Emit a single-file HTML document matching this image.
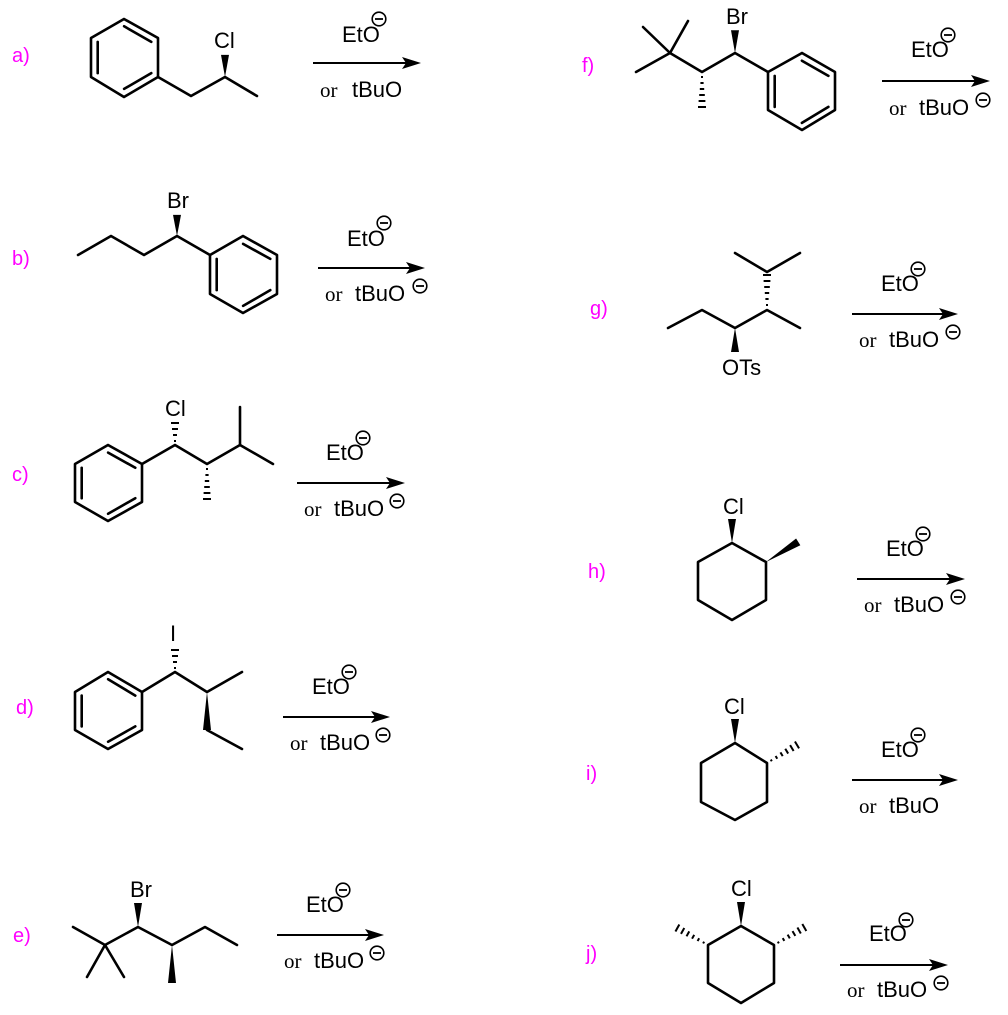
<!DOCTYPE html>
<html><head><meta charset="utf-8"><style>
html,body{margin:0;padding:0;background:#fff;}
svg{display:block;}
.b{stroke:#000;stroke-width:2.6;fill:none;stroke-linecap:round;stroke-linejoin:round;}
.h{stroke:#000;stroke-width:2;}
.t{font-family:"Liberation Sans",sans-serif;font-size:22px;fill:#000;}
.s{font-family:"Liberation Serif",serif;font-size:21px;fill:#000;}
.m{font-family:"Liberation Sans",sans-serif;font-size:20px;fill:#ff00ff;}
</style></head><body>
<svg width="1008" height="1015" viewBox="0 0 1008 1015" xmlns="http://www.w3.org/2000/svg">
<defs>
<g id="hash">
<line class="h" x1="5" y1="-1" x2="5" y2="1"/><line class="h" x1="11" y1="-1.6" x2="11" y2="1.6"/>
<line class="h" x1="17" y1="-2.2" x2="17" y2="2.2"/><line class="h" x1="23" y1="-2.8" x2="23" y2="2.8"/>
<line class="h" x1="29" y1="-3.4" x2="29" y2="3.4"/><line class="h" x1="35" y1="-4" x2="35" y2="4"/>
</g>
<g id="hashs">
<line class="h" x1="4" y1="-1" x2="4" y2="1"/><line class="h" x1="10" y1="-2" x2="10" y2="2"/>
<line class="h" x1="16" y1="-3" x2="16" y2="3"/><line class="h" x1="22" y1="-4" x2="22" y2="4"/>
</g>
<polygon id="wl" points="0,0 38,-4 38,4" fill="#000"/>
<polygon id="ws" points="0,0 24,-4 24,4" fill="#000"/>
<g id="minus"><circle cx="0" cy="0" r="6.8" fill="#fff" stroke="#000" stroke-width="1.6"/><line x1="-4" y1="0" x2="4" y2="0" stroke="#000" stroke-width="1.8"/></g>
</defs>

<text class="m" x="12" y="62">a)</text>
<text class="m" x="12" y="265">b)</text>
<text class="m" x="12" y="481">c)</text>
<text class="m" x="16" y="714">d)</text>
<text class="m" x="13" y="942">e)</text>
<text class="m" x="582" y="72">f)</text>
<text class="m" x="590" y="315">g)</text>
<text class="m" x="588" y="578">h)</text>
<text class="m" x="586" y="780">i)</text>
<text class="m" x="586" y="960">j)</text>

<polygon class="b" points="124,19 158,38 158,77 124,97 91,77 91,38"/>
<line class="b" x1="97.7" y1="41.9" x2="97.7" y2="73.1"/>
<line class="b" x1="124.1" y1="26.3" x2="151.3" y2="41.9"/>
<line class="b" x1="151.3" y1="73.1" x2="124.1" y2="88.9"/>
<polyline class="b" points="158,77 191,96 225,77 257,96"/>
<use href="#ws" transform="translate(225,77) rotate(-90) scale(0.92,1)"/>
<text class="t" x="214" y="48">Cl</text>

<polygon class="b" points="210,255 243,236 277,255 277,294 243,313 210,294"/>
<line class="b" x1="216.7" y1="258.9" x2="216.7" y2="290.1"/>
<line class="b" x1="243.1" y1="243.9" x2="270.3" y2="258.9"/>
<line class="b" x1="270.3" y1="290.1" x2="243.1" y2="305.9"/>
<polyline class="b" points="78,255 111,236 144,255 177,236 210,255"/>
<use href="#ws" transform="translate(177,236) rotate(-90) scale(0.88,1)"/>
<text class="t" x="167" y="208">Br</text>

<polygon class="b" points="108,445 142,464 142,502 108,521 75,502 75,464"/>
<line class="b" x1="81.7" y1="467.8" x2="81.7" y2="498.2"/>
<line class="b" x1="108.1" y1="452.6" x2="135.3" y2="467.8"/>
<line class="b" x1="135.3" y1="498.2" x2="108.1" y2="513.8"/>
<polyline class="b" points="142,464 175,445 207,464 240,445 273,464"/>
<line class="b" x1="240" y1="445" x2="240" y2="407"/>
<use href="#hashs" transform="translate(175,445) rotate(-90)"/>
<use href="#hash" transform="translate(207,464) rotate(90)"/>
<text class="t" x="165" y="416">Cl</text>

<polygon class="b" points="108,672 142,692 142,730 108,749 75,730 75,692"/>
<line class="b" x1="81.7" y1="695.6" x2="81.7" y2="726.4"/>
<line class="b" x1="108.1" y1="679.2" x2="135.3" y2="695.6"/>
<line class="b" x1="135.3" y1="726.4" x2="108.1" y2="741.7"/>
<polyline class="b" points="142,692 175,672 207,692 242,672"/>
<use href="#hashs" transform="translate(175,672) rotate(-90)"/>
<use href="#wl" transform="translate(207,692) rotate(90)"/>
<line class="b" x1="207" y1="730" x2="242" y2="749"/>
<text class="t" x="170" y="641">I</text>

<polyline class="b" points="73,927 105,945 138,927 172,945 205,927 237,945"/>
<line class="b" x1="105" y1="945" x2="87" y2="977"/>
<line class="b" x1="105" y1="945" x2="124" y2="977"/>
<use href="#ws" transform="translate(138,927) rotate(-90)"/>
<use href="#wl" transform="translate(172,945) rotate(90)"/>
<text class="t" x="130" y="897">Br</text>

<polygon class="b" points="768,72 802,53 835,72 835,110 802,130 768,110"/>
<line class="b" x1="774.7" y1="75.9" x2="774.7" y2="106.9"/>
<line class="b" x1="801.9" y1="60.7" x2="828.4" y2="75.9"/>
<line class="b" x1="828.4" y1="106.9" x2="801.9" y2="122.9"/>
<polyline class="b" points="636,72 670,53 702,72 735,53 768,72"/>
<line class="b" x1="670" y1="53" x2="643" y2="27"/>
<line class="b" x1="670" y1="53" x2="688" y2="21"/>
<use href="#hash" transform="translate(702,72) rotate(90)"/>
<use href="#ws" transform="translate(735,53) rotate(-90) scale(0.95,1)"/>
<text class="t" x="726" y="24">Br</text>

<polyline class="b" points="668,328 702,310 735,328 767,310 800,328"/>
<polyline class="b" points="735,253 767,272 800,253"/>
<use href="#hash" transform="translate(767,310) rotate(-90)"/>
<use href="#ws" transform="translate(735,328) rotate(90)"/>
<text class="t" x="722" y="375">OTs</text>

<polygon class="b" points="732,543 766,562 766,600 732,620 698,600 698,562"/>
<use href="#ws" transform="translate(732,543) rotate(-90)"/>
<use href="#wl" transform="translate(766,562) rotate(-32)"/>
<text class="t" x="723" y="514">Cl</text>

<polygon class="b" points="735,743 767,763 767,802 735,820 701,802 701,763"/>
<use href="#ws" transform="translate(735,743) rotate(-90)"/>
<use href="#hash" transform="translate(767,763) rotate(-31)"/>
<text class="t" x="724" y="714">Cl</text>

<polygon class="b" points="741,926 774,945 774,983 741,1003 708,983 708,945"/>
<use href="#ws" transform="translate(741,926) rotate(-90)"/>
<use href="#hash" transform="translate(774,945) rotate(-30)"/>
<use href="#hash" transform="translate(708,945) rotate(-151)"/>
<text class="t" x="731" y="896">Cl</text>

<line x1="313" y1="63" x2="408" y2="63" stroke="#000" stroke-width="2"/><path d="M421,63 L402,57 L406,63 L402,69 Z"/>
<text class="t" x="342" y="42">EtO</text><use href="#minus" x="379" y="19"/>
<text class="s" x="320" y="97">or</text><text class="t" x="352" y="97">tBuO</text>

<line x1="318" y1="268" x2="412" y2="268" stroke="#000" stroke-width="2"/><path d="M425,268 L406,262 L410,268 L406,274 Z"/>
<text class="t" x="347" y="246">EtO</text><use href="#minus" x="384" y="223"/>
<text class="s" x="325" y="301">or</text><text class="t" x="355" y="301">tBuO</text><use href="#minus" x="420" y="286"/>

<line x1="297" y1="483" x2="392" y2="483" stroke="#000" stroke-width="2"/><path d="M405,483 L386,477 L390,483 L386,489 Z"/>
<text class="t" x="326" y="460">EtO</text><use href="#minus" x="363" y="438"/>
<text class="s" x="304" y="516">or</text><text class="t" x="334" y="516">tBuO</text><use href="#minus" x="397" y="501"/>

<line x1="283" y1="717" x2="377" y2="717" stroke="#000" stroke-width="2"/><path d="M390,717 L371,711 L375,717 L371,723 Z"/>
<text class="t" x="312" y="694">EtO</text><use href="#minus" x="349" y="672"/>
<text class="s" x="290" y="750">or</text><text class="t" x="320" y="750">tBuO</text><use href="#minus" x="383" y="735"/>

<line x1="277" y1="935" x2="371" y2="935" stroke="#000" stroke-width="2"/><path d="M384,935 L365,929 L369,935 L365,941 Z"/>
<text class="t" x="306" y="912">EtO</text><use href="#minus" x="343" y="890"/>
<text class="s" x="284" y="968">or</text><text class="t" x="314" y="968">tBuO</text><use href="#minus" x="377" y="953"/>

<line x1="882" y1="81" x2="977" y2="81" stroke="#000" stroke-width="2"/><path d="M990,81 L971,75 L975,81 L971,87 Z"/>
<text class="t" x="911" y="57">EtO</text><use href="#minus" x="948" y="35"/>
<text class="s" x="889" y="115">or</text><text class="t" x="919" y="115">tBuO</text><use href="#minus" x="983" y="100"/>

<line x1="852" y1="314" x2="945" y2="314" stroke="#000" stroke-width="2"/><path d="M958,314 L939,308 L943,314 L939,320 Z"/>
<text class="t" x="881" y="291">EtO</text><use href="#minus" x="918" y="269"/>
<text class="s" x="859" y="347">or</text><text class="t" x="889" y="347">tBuO</text><use href="#minus" x="953" y="332"/>

<line x1="857" y1="579" x2="952" y2="579" stroke="#000" stroke-width="2"/><path d="M965,579 L946,573 L950,579 L946,585 Z"/>
<text class="t" x="886" y="556">EtO</text><use href="#minus" x="923" y="534"/>
<text class="s" x="864" y="612">or</text><text class="t" x="894" y="612">tBuO</text><use href="#minus" x="958" y="597"/>

<line x1="852" y1="780" x2="945" y2="780" stroke="#000" stroke-width="2"/><path d="M958,780 L939,774 L943,780 L939,786 Z"/>
<text class="t" x="881" y="757">EtO</text><use href="#minus" x="918" y="735"/>
<text class="s" x="859" y="813">or</text><text class="t" x="889" y="813">tBuO</text>

<line x1="840" y1="965" x2="935" y2="965" stroke="#000" stroke-width="2"/><path d="M948,965 L929,959 L933,965 L929,971 Z"/>
<text class="t" x="869" y="941">EtO</text><use href="#minus" x="906" y="920"/>
<text class="s" x="847" y="997">or</text><text class="t" x="877" y="997">tBuO</text><use href="#minus" x="941" y="983"/>
</svg>
</body></html>
